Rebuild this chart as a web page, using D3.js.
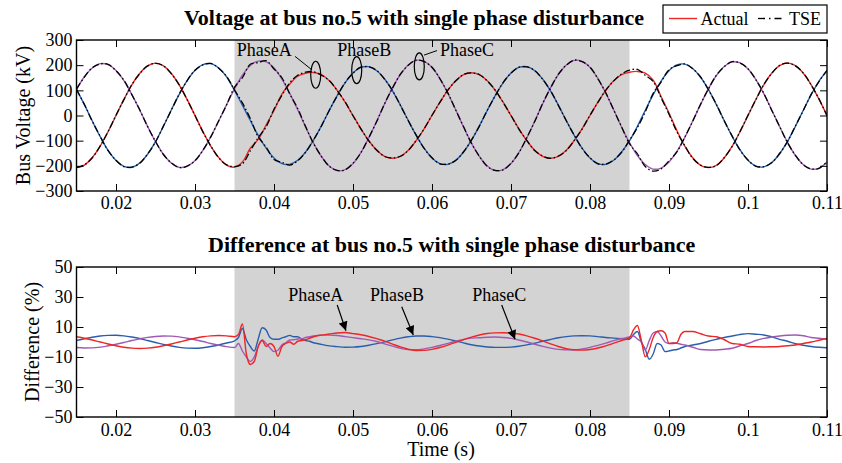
<!DOCTYPE html>
<html>
<head>
<meta charset="utf-8">
<script src="https://cdn.jsdelivr.net/npm/d3@7"></script>
<style>
body { margin: 0; background: #fff; }
text { font-family: "Liberation Serif", "Times New Roman", serif; }
</style>
</head>
<body>
<svg id="chart" width="842" height="463"></svg>
<script>
// sample times of the voltage traces (s)
var tVolt = [0.015,0.016,0.017,0.018,0.019,0.020,0.021,0.022,0.023,0.024,
  0.025,0.026,0.027,0.028,0.029,0.030,0.031,0.032,0.033,0.034,
  0.035,0.036,0.037,0.038,0.039,0.040,0.041,0.042,0.043,0.044,
  0.045,0.046,0.047,0.048,0.049,0.050,0.051,0.052,0.053,0.054,
  0.055,0.056,0.057,0.058,0.059,0.060,0.061,0.062,0.063,0.064,
  0.065,0.066,0.067,0.068,0.069,0.070,0.071,0.072,0.073,0.074,
  0.075,0.076,0.077,0.078,0.079,0.080,0.081,0.082,0.083,0.084,
  0.085,0.086,0.087,0.088,0.089,0.090,0.091,0.092,0.093,0.094,
  0.095,0.096,0.097,0.098,0.099,0.100,0.101,0.102,0.103,0.104,
  0.105,0.106,0.107,0.108,0.109,0.110];

// actual bus voltage (kV)
var voltA = [-207,-197,-167,-122,-64,0,64,122,167,197,
  208,197,167,122,64,0,-64,-122,-167,-197,
  -205,-185,-130,-95,-38,20,85,125,156,168,
  171,162,138,100,53,0,-53,-100,-138,-162,
  -170,-162,-138,-100,-53,0,53,100,138,162,
  170,162,138,100,53,0,-53,-100,-138,-162,
  -170,-162,-138,-100,-53,0,53,100,138,162,
  172,175,168,140,75,10,-60,-122,-168,-198,
  -207,-198,-168,-122,-64,0,64,122,168,198,
  209,198,168,122,64,0];
var voltB = [104,43,-22,-84,-139,-179,-202,-206,-189,-154,
  -104,-43,22,84,139,179,202,206,189,154,
  100,41,-20,-79,-130,-169,-191,-194,-178,-145,
  -98,-41,20,79,130,169,191,194,178,145,
  98,41,-20,-79,-130,-169,-191,-194,-178,-145,
  -98,-41,20,79,130,169,191,194,178,145,
  98,41,-20,-79,-130,-169,-191,-194,-178,-145,
  -101,-43,21,83,137,178,201,204,187,152,
  103,43,-21,-83,-137,-178,-201,-204,-187,-152,
  -103,-43,21,83,137,178];
var voltC = [104,154,189,206,202,179,139,84,22,-43,
  -104,-154,-189,-206,-202,-179,-139,-84,-22,43,
  106,160,199,216,213,189,145,88,23,-46,
  -110,-163,-201,-219,-215,-191,-147,-89,-23,46,
  110,163,201,219,215,191,147,89,23,-46,
  -110,-163,-201,-219,-215,-191,-147,-89,-23,46,
  110,163,201,219,215,191,147,89,23,-46,
  -108,-159,-195,-213,-209,-185,-143,-87,-22,44,
  107,159,195,213,209,185,143,87,22,-44,
  -107,-159,-195,-213,-209,-185];

// TSE estimate (kV)
var tseA = [-207,-196,-168,-121,-64,1,63,122,166,197,
  207,198,166,122,63,0,-65,-121,-168,-196,
  -203,-192,-140,-88,-45,25,80,130,160,172,
  174,160,139,99,54,-1,-53,-101,-137,-163,
  -169,-162,-139,-99,-53,1,52,101,137,163,
  169,162,137,101,52,0,-54,-99,-139,-161,
  -170,-161,-139,-99,-54,1,52,101,137,165,
  180,183,160,135,70,5,-65,-120,-170,-197,
  -206,-199,-167,-123,-63,1,63,123,167,199,
  208,197,169,121,65,-1];
var tseB = [103,44,-23,-83,-140,-178,-203,-205,-190,-153,
  -105,-42,21,85,138,180,201,207,188,155,
  102,50,-12,-85,-125,-175,-186,-197,-180,-146,
  -97,-42,21,78,131,168,192,193,179,144,
  99,40,-21,-78,-131,-168,-192,-193,-179,-144,
  -97,-42,21,78,131,168,192,193,179,144,
  99,40,-21,-78,-131,-168,-192,-193,-177,-146,
  -98,-48,15,88,133,182,198,205,186,153,
  102,44,-22,-82,-138,-177,-202,-203,-188,-151,
  -104,-42,20,84,136,179];
var tseC = [105,153,190,205,203,178,140,83,23,-44,
  -103,-155,-188,-207,-201,-180,-138,-85,-21,42,
  112,150,204,210,218,185,150,85,28,-44,
  -111,-162,-202,-218,-216,-190,-148,-88,-24,47,
  109,164,200,220,214,192,146,90,22,-45,
  -111,-162,-202,-218,-216,-190,-148,-88,-24,47,
  109,164,200,220,214,192,146,90,22,-45,
  -112,-152,-203,-221,-212,-180,-145,-86,-23,45,
  106,160,194,214,208,186,142,88,21,-43,
  -108,-158,-196,-212,-210,-184];

// sample times of the difference traces (s), denser around the disturbance edges
var tDiff = [0.015,0.016,0.017,0.018,0.019,0.020,0.021,0.022,0.023,0.024,
  0.025,0.026,0.027,0.028,0.029,0.030,0.031,0.032,0.033,0.034,0.035,
  0.0355,0.036,0.0365,0.037,0.0375,0.038,0.0385,0.039,0.0395,0.040,0.0405,
  0.041,0.0415,0.042,0.0425,0.043,0.0435,0.044,0.0445,0.045,0.0455,0.046,
  0.047,0.048,0.049,0.050,0.051,0.052,0.053,0.054,0.055,0.056,
  0.057,0.058,0.059,0.060,0.061,0.062,0.063,0.064,0.065,0.066,
  0.067,0.068,0.069,0.070,0.071,0.072,0.073,0.074,0.075,0.076,
  0.077,0.078,0.079,0.080,0.081,0.082,0.083,0.084,0.085,
  0.0855,0.086,0.0865,0.087,0.0875,0.088,0.0885,0.089,0.0895,0.090,0.0905,
  0.091,0.0915,0.092,
  0.093,0.094,0.095,0.096,0.097,0.098,0.099,0.100,0.101,0.102,
  0.103,0.104,0.105,0.106,0.107,0.108,0.109,0.110];

// difference (%)
var diffA = [3.5,2.5,1.3,0,-1.3,-2.5,-3.5,-4.1,-4.3,-4.1,-3.5,-2.5,-1.3,0,1.3,2.5,3.5,4.1,4.3,4.1,3.5,
  5,12,-8,-15,-13,-3,1,-3,-1,-3,-9.5,-3,-1,0,-1.5,0.5,1,1.5,2.5,3.5,4.2,4.6,
  5.3,6.0,6.3,5.6,4.8,3.7,2.2,0.6,-1.4,-3.3,-4.8,-5.7,-5.6,-4.9,-3.7,-2.1,-0.3,1.6,3.3,4.7,
  5.7,6.1,6.2,6.0,5.3,4.1,2.5,0.7,-1.2,-3.0,-4.4,-5.2,-5.4,-5.0,-4.0,-2.6,-0.8,1.0,2.8,
  8,11,1,-9.8,-5,3,7,7.5,6,-1,-1,-0.5,5,7,
  7,5.5,4,3.5,1.5,-1,-1.5,-3,-3.2,-3.3,-3.2,-3,-2.5,-2,-1,0,1.2,2.4];
var diffB = [1.0,2.2,3.2,4.0,4.4,4.5,4.1,3.3,2.3,1.0,-0.3,-1.6,-2.7,-3.6,-4.1,-4.2,-3.8,-3.0,-2.0,-0.7,0.8,
  3,9,1.5,-3,-6,2,9.5,8,3,1.8,1.8,2.7,3.5,4.4,3.5,3.5,1.8,1,0.5,-0.5,-1,-1.6,
  -2.6,-3.1,-3.5,-3.4,-3.0,-2.2,-1.1,0.1,1.4,2.6,3.5,4.0,4.0,3.6,2.9,1.9,0.7,-0.6,-1.8,-2.7,
  -3.3,-3.6,-3.6,-3.4,-2.8,-1.9,-0.8,0.5,1.7,2.8,3.6,4.1,4.2,4.1,3.6,3.0,2.6,2.2,1.8,
  5,7,0,-5,-11.5,-8,-1,-2,-6.4,-6,-5.3,-5,-4,-3,
  -2,-1,0.5,1.8,3,4,5,5.6,5.2,4.7,3.5,1.8,0.5,-1.2,-2.2,-3,-3.5,-3.8];
var diffC = [-3.7,-4.0,-3.9,-3.4,-2.5,-1.5,-0.3,1.0,2.1,3.1,3.7,4.0,3.9,3.4,2.5,1.5,0.3,-1.0,-2.1,-3.1,-3.7,
  -1,-6,-10,-13,-10,-3,1.3,-1,-4,-6.4,-5.5,-2,-0.5,1.3,1.5,2,2.2,3,3.5,4,4.4,4.6,
  4.6,4.3,3.6,2.9,2.2,1.4,0.3,-1.2,-2.8,-4.2,-5.1,-5.2,-4.6,-3.6,-2.3,-0.9,0.5,1.7,2.6,2.8,
  3.2,3.3,3.0,2.4,1.3,0.0,-1.5,-2.9,-4.1,-4.9,-5.2,-5.3,-4.7,-3.6,-2.2,-0.7,0.9,2.3,3.3,
  4,2,0,-5.3,1,6,7,4,0,-1,-0.5,-0.8,-1.5,-2,
  -3.5,-5,-5.3,-5.3,-4.8,-4.2,-2.5,-1,1,2.4,3.3,4,4.5,4.7,4.2,3,2.5,1.8];

var xTicks = [0.02,0.03,0.04,0.05,0.06,0.07,0.08,0.09,0.1,0.11];
var voltTicks = [-300,-200,-100,0,100,200,300];
var diffTicks = [-50,-30,-10,10,30,50];
var disturb = [0.035, 0.085];
var phases = ['PhaseA','PhaseB','PhaseC'];
var legendNames = ['Actual','TSE'];

var red = '#ee2626', blue = '#2a5ead', purple = '#a05ab4';
var serif = '"Liberation Serif", "Times New Roman", serif';

var svg = d3.select('#chart');
var defs = svg.append('defs');

var x = d3.scaleLinear().domain([0.015, 0.11]).range([76.5, 827]);
var yV = d3.scaleLinear().domain([-300, 300]).range([191, 40]);
var yD = d3.scaleLinear().domain([-50, 50]).range([417, 267]);
var fmtX = function(d) { return String(+d.toFixed(3)); };

function panel(y, ticks, id, labelPad) {
  var top = y.range()[1], bot = y.range()[0];
  var left = x.range()[0], right = x.range()[1];
  defs.append('clipPath').attr('id', id).append('rect')
    .attr('x', left).attr('y', top).attr('width', right - left).attr('height', bot - top);
  svg.append('rect')
    .attr('x', x(disturb[0])).attr('y', top)
    .attr('width', x(disturb[1]) - x(disturb[0])).attr('height', bot - top)
    .attr('fill', '#d3d3d3');
  return svg.append('g').attr('clip-path', 'url(#' + id + ')');
}

function axes(y, ticks, padX) {
  var top = y.range()[1], bot = y.range()[0];
  var style = function(g) {
    g.select('.domain').remove();
    g.attr('font-family', serif).attr('font-size', 18).attr('color', '#000');
    g.selectAll('.tick line').attr('stroke-width', 1);
  };
  svg.append('g').attr('transform', 'translate(0,' + bot + ')')
    .call(d3.axisBottom(x).tickValues(xTicks).tickSizeInner(-7).tickSizeOuter(0).tickPadding(padX).tickFormat(fmtX))
    .call(style);
  svg.append('g').attr('transform', 'translate(0,' + top + ')')
    .call(d3.axisTop(x).tickValues(xTicks).tickSizeInner(-7).tickSizeOuter(0).tickFormat(''))
    .call(style);
  svg.append('g').attr('transform', 'translate(' + x.range()[0] + ',0)')
    .call(d3.axisLeft(y).tickValues(ticks).tickSizeInner(-7).tickSizeOuter(0).tickPadding(4).tickFormat(d3.format('d')))
    .call(style);
  svg.append('g').attr('transform', 'translate(' + x.range()[1] + ',0)')
    .call(d3.axisRight(y).tickValues(ticks).tickSizeInner(-7).tickSizeOuter(0).tickFormat(''))
    .call(style);
  svg.append('rect')
    .attr('x', x.range()[0]).attr('y', top)
    .attr('width', x.range()[1] - x.range()[0]).attr('height', bot - top)
    .attr('fill', 'none').attr('stroke', '#000').attr('stroke-width', 1.4);
}

// ---- top: bus voltage ----
var gV = panel(yV, voltTicks, 'clipV');
var lineV = d3.line()
  .x(function(d, i) { return x(tVolt[i]); })
  .y(function(d) { return yV(d); })
  .curve(d3.curveCatmullRom.alpha(0.5));

[[voltA, red], [voltB, blue], [voltC, purple]].forEach(function(s) {
  gV.append('path').attr('d', lineV(s[0]))
    .attr('fill', 'none').attr('stroke', s[1]).attr('stroke-width', 1.4);
});
[tseA, tseB, tseC].forEach(function(s) {
  gV.append('path').attr('d', lineV(s))
    .attr('fill', 'none').attr('stroke', '#000').attr('stroke-width', 1.3)
    .attr('stroke-dasharray', '7,2.5,1.5,2.5');
});

// ellipse callouts (placed in data units)
var callouts = [
  { name: phases[0], tx: 0.03528, tv: 236, et: 0.04528, ev: 162, lead: [[0.04266, 235], [0.04477, 182]] },
  { name: phases[1], tx: 0.04801, tv: 236, et: 0.05047, ev: 180, lead: null },
  { name: phases[2], tx: 0.06101, tv: 236, et: 0.05839, ev: 195, lead: [[0.05899, 240], [0.06064, 258]] }
];
callouts.forEach(function(c) {
  svg.append('ellipse').attr('cx', x(c.et)).attr('cy', yV(c.ev)).attr('rx', 5).attr('ry', 13.5)
    .attr('fill', 'none').attr('stroke', '#000').attr('stroke-width', 1.2);
  if (c.lead) {
    svg.append('line')
      .attr('x1', x(c.lead[0][0])).attr('y1', yV(c.lead[0][1]))
      .attr('x2', x(c.lead[1][0])).attr('y2', yV(c.lead[1][1]))
      .attr('stroke', '#000').attr('stroke-width', 1);
  }
  svg.append('text').attr('x', x(c.tx)).attr('y', yV(c.tv))
    .attr('font-size', 18).text(c.name);
});

axes(yV, voltTicks, 5);

svg.append('text').attr('x', 414).attr('y', 25).attr('text-anchor', 'middle')
  .attr('font-size', 22).attr('font-weight', 'bold')
  .text('Voltage at bus no.5 with single phase disturbance');
svg.append('text').attr('transform', 'translate(30,115.5) rotate(-90)')
  .attr('text-anchor', 'middle').attr('font-size', 20).text('Bus Voltage (kV)');

// legend
var lg = svg.append('g');
lg.append('rect').attr('x', 663).attr('y', 5).attr('width', 164).attr('height', 28)
  .attr('fill', '#fff').attr('stroke', '#000').attr('stroke-width', 1.2);
lg.append('line').attr('x1', 669).attr('x2', 697).attr('y1', 18.5).attr('y2', 18.5)
  .attr('stroke', red).attr('stroke-width', 1.4);
lg.append('text').attr('x', 700.5).attr('y', 25).attr('font-size', 18).text(legendNames[0]);
lg.append('line').attr('x1', 758).attr('x2', 785).attr('y1', 18.5).attr('y2', 18.5)
  .attr('stroke', '#000').attr('stroke-width', 1.3).attr('stroke-dasharray', '7,4,1.5,4');
lg.append('text').attr('x', 789).attr('y', 25).attr('font-size', 18).text(legendNames[1]);

// ---- bottom: difference ----
var gD = panel(yD, diffTicks, 'clipD');
var lineD = d3.line()
  .x(function(d, i) { return x(tDiff[i]); })
  .y(function(d) { return yD(d); })
  .curve(d3.curveMonotoneX);

[[diffB, blue], [diffC, purple], [diffA, red]].forEach(function(s) {
  gD.append('path').attr('d', lineD(s[0]))
    .attr('fill', 'none').attr('stroke', s[1]).attr('stroke-width', 1.4);
});

defs.append('marker').attr('id', 'arrow')
  .attr('viewBox', '0 0 10 10').attr('refX', 10).attr('refY', 5)
  .attr('markerUnits', 'userSpaceOnUse').attr('markerWidth', 11).attr('markerHeight', 9)
  .attr('orient', 'auto')
  .append('path').attr('d', 'M0,0L10,5L0,10Z').attr('fill', '#000');

var arrows = [
  { name: phases[0], tx: 0.04181, tv: 27.3, from: [0.0480, 24.7], to: [0.04911, 7.5] },
  { name: phases[1], tx: 0.05215, tv: 27.3, from: [0.05617, 23.5], to: [0.05763, 4.7] },
  { name: phases[2], tx: 0.0651, tv: 27.3, from: [0.06882, 24.7], to: [0.07051, 1.8] }
];
arrows.forEach(function(a) {
  svg.append('text').attr('x', x(a.tx)).attr('y', yD(a.tv)).attr('font-size', 18).text(a.name);
  svg.append('line')
    .attr('x1', x(a.from[0])).attr('y1', yD(a.from[1]))
    .attr('x2', x(a.to[0])).attr('y2', yD(a.to[1]))
    .attr('stroke', '#000').attr('stroke-width', 1.2).attr('marker-end', 'url(#arrow)');
});

axes(yD, diffTicks, 6);

svg.append('text').attr('x', 451.75).attr('y', 252).attr('text-anchor', 'middle')
  .attr('font-size', 22).attr('font-weight', 'bold')
  .text('Difference at bus no.5 with single phase disturbance');
svg.append('text').attr('transform', 'translate(39,342) rotate(-90)')
  .attr('text-anchor', 'middle').attr('font-size', 20).text('Difference (%)');
svg.append('text').attr('x', 441).attr('y', 456).attr('text-anchor', 'middle')
  .attr('font-size', 20).text('Time (s)');
</script>
</body>
</html>
